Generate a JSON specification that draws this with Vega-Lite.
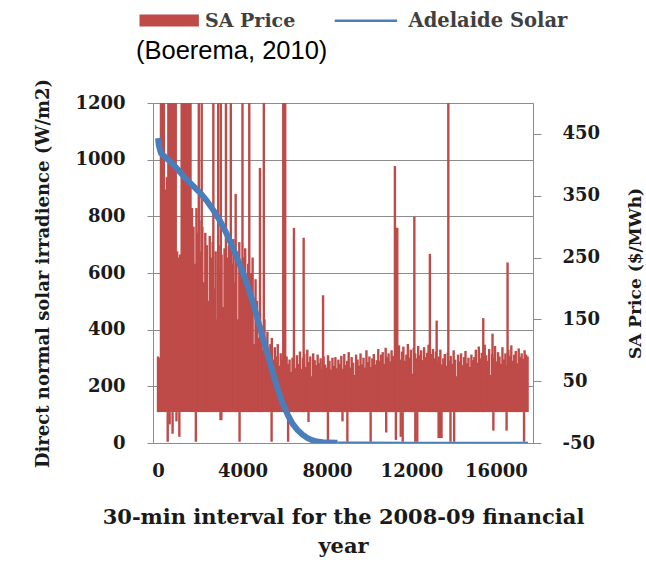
{
  "$schema": "https://vega.github.io/schema/vega-lite/v6.json",
  "width": 380,
  "height": 340,
  "autosize": "none",
  "padding": {"left": 153, "top": 103, "right": 113, "bottom": 130},
  "background": "white",
  "config": {
    "view": {"stroke": "#8c8c8c", "strokeWidth": 1},
    "axis": {
      "labelFont": "DejaVu Serif", "labelFontWeight": "bold", "labelFontSize": 18, "labelColor": "#1a1a1a",
      "titleFont": "DejaVu Serif", "titleFontWeight": "bold", "titleColor": "#1a1a1a",
      "domainColor": "#8c8c8c", "tickColor": "#8c8c8c", "gridColor": "#8c8c8c", "gridOpacity": 1,
      "labelExpr": "'' + datum.value"
    }
  },
  "datasets": {
    "price": [
      {"x":0,"price":90},{"x":70,"price":88},{"x":140,"price":600},{"x":210,"price":600},{"x":280,"price":600},{"x":350,"price":360},{"x":420,"price":380},{"x":490,"price":600},{"x":560,"price":600},{"x":630,"price":600},{"x":700,"price":600},{"x":770,"price":600},{"x":840,"price":600},{"x":910,"price":260},{"x":980,"price":250},{"x":1050,"price":255},{"x":1120,"price":600},{"x":1190,"price":600},{"x":1260,"price":600},{"x":1330,"price":600},{"x":1400,"price":600},{"x":1470,"price":600},{"x":1540,"price":600},
      {"x":1610,"price":330},{"x":1680,"price":300},{"x":1750,"price":240},{"x":1820,"price":330},{"x":1890,"price":290},{"x":1960,"price":310},{"x":2030,"price":260},{"x":2100,"price":300},{"x":2170,"price":210},{"x":2240,"price":290},{"x":2310,"price":270},{"x":2380,"price":180},{"x":2450,"price":285},{"x":2520,"price":250},{"x":2590,"price":275},{"x":2660,"price":200},{"x":2730,"price":260},{"x":2800,"price":150},{"x":2870,"price":270},{"x":2940,"price":230},{"x":3010,"price":255},{"x":3080,"price":170},{"x":3150,"price":265},{"x":3220,"price":120},{"x":3290,"price":250},{"x":3360,"price":270},{"x":3430,"price":190},{"x":3500,"price":240},
      {"x":3570,"price":280},{"x":3640,"price":210},{"x":3710,"price":260},{"x":3780,"price":150},{"x":3850,"price":275},{"x":3920,"price":230},{"x":3990,"price":120},{"x":4060,"price":250},{"x":4130,"price":265},{"x":4200,"price":200},{"x":4270,"price":240},{"x":4340,"price":130},{"x":4410,"price":225},{"x":4480,"price":250},{"x":4550,"price":110},{"x":4620,"price":215},{"x":4690,"price":180},{"x":4760,"price":120},{"x":4830,"price":160},{"x":4900,"price":140},{"x":4970,"price":100},{"x":5040,"price":150},{"x":5110,"price":115},{"x":5180,"price":130},{"x":5250,"price":95},{"x":5320,"price":110},{"x":5390,"price":120},{"x":5460,"price":85},{"x":5530,"price":105},{"x":5600,"price":90},{"x":5670,"price":110},{"x":5740,"price":75},{"x":5810,"price":95},{"x":5880,"price":85},{"x":5950,"price":100},{"x":6020,"price":70},{"x":6090,"price":90},{"x":6160,"price":78},{"x":6230,"price":85},{"x":6300,"price":65},{"x":6370,"price":88},{"x":6440,"price":72},
      {"x":6510,"price":71},{"x":6580,"price":92},{"x":6650,"price":78},{"x":6720,"price":98},{"x":6790,"price":70},{"x":6860,"price":88},{"x":6930,"price":94},{"x":7000,"price":73},{"x":7070,"price":101},{"x":7140,"price":81},{"x":7210,"price":90},{"x":7280,"price":58},{"x":7350,"price":95},{"x":7420,"price":84},{"x":7490,"price":76},{"x":7560,"price":93},{"x":7630,"price":79},
      {"x":7700,"price":87},{"x":7770,"price":70},{"x":7840,"price":90},{"x":7910,"price":77},{"x":7980,"price":72},{"x":8050,"price":92},{"x":8120,"price":83},{"x":8190,"price":69},{"x":8260,"price":88},{"x":8330,"price":75},{"x":8400,"price":89},{"x":8470,"price":71},{"x":8540,"price":85},{"x":8610,"price":78},{"x":8680,"price":91},{"x":8750,"price":70},
      {"x":8820,"price":94},{"x":8890,"price":76},{"x":8960,"price":83},{"x":9030,"price":97},{"x":9100,"price":72},{"x":9170,"price":89},{"x":9240,"price":80},{"x":9310,"price":60},{"x":9380,"price":93},{"x":9450,"price":85},{"x":9520,"price":75},{"x":9590,"price":95},{"x":9660,"price":77},{"x":9730,"price":88},{"x":9800,"price":72},{"x":9870,"price":100},{"x":9940,"price":81},{"x":10010,"price":90},{"x":10080,"price":73},{"x":10150,"price":87},{"x":10220,"price":94},{"x":10290,"price":77},{"x":10360,"price":84},
      {"x":10430,"price":102},{"x":10500,"price":83},{"x":10570,"price":93},{"x":10640,"price":97},{"x":10710,"price":78},{"x":10780,"price":104},{"x":10850,"price":89},{"x":10920,"price":95},{"x":10990,"price":82},{"x":11060,"price":100},{"x":11130,"price":91},{"x":11200,"price":86},{"x":11270,"price":106},
      {"x":11340,"price":90},{"x":11410,"price":108},{"x":11480,"price":85},{"x":11550,"price":98},{"x":11620,"price":106},{"x":11690,"price":83},{"x":11760,"price":93},{"x":11830,"price":110},{"x":11900,"price":88},{"x":11970,"price":101},{"x":12040,"price":62},{"x":12110,"price":104},{"x":12180,"price":95},{"x":12250,"price":87},{"x":12320,"price":107},{"x":12390,"price":92},{"x":12460,"price":100},{"x":12530,"price":84},{"x":12600,"price":105},{"x":12670,"price":89},{"x":12740,"price":96},{"x":12810,"price":109},{"x":12880,"price":82},{"x":12950,"price":94},{"x":13020,"price":102},{"x":13090,"price":87},
      {"x":13160,"price":98},{"x":13230,"price":81},{"x":13300,"price":90},{"x":13370,"price":101},{"x":13440,"price":77},{"x":13510,"price":87},{"x":13580,"price":94},{"x":13650,"price":75},{"x":13720,"price":96},{"x":13790,"price":83},{"x":13860,"price":91},{"x":13930,"price":78},{"x":14000,"price":100},{"x":14070,"price":85},{"x":14140,"price":58},{"x":14210,"price":93},{"x":14280,"price":82},{"x":14350,"price":95},{"x":14420,"price":76},{"x":14490,"price":89},{"x":14560,"price":99},{"x":14630,"price":79},{"x":14700,"price":88},{"x":14770,"price":73},{"x":14840,"price":93},{"x":14910,"price":84},
      {"x":14980,"price":89},{"x":15050,"price":101},{"x":15120,"price":80},{"x":15190,"price":106},{"x":15260,"price":87},{"x":15330,"price":96},{"x":15400,"price":77},{"x":15470,"price":109},{"x":15540,"price":92},{"x":15610,"price":83},{"x":15680,"price":102},{"x":15750,"price":60},{"x":15820,"price":94},{"x":15890,"price":88},{"x":15960,"price":107},{"x":16030,"price":82},{"x":16100,"price":97},{"x":16170,"price":90},{"x":16240,"price":78},{"x":16310,"price":105},{"x":16380,"price":85},{"x":16450,"price":95},{"x":16520,"price":76},{"x":16590,"price":101},{"x":16660,"price":91},{"x":16730,"price":108},{"x":16800,"price":83},{"x":16870,"price":93},{"x":16940,"price":99},{"x":17010,"price":79},{"x":17080,"price":103},{"x":17150,"price":89},{"x":17220,"price":95},{"x":17290,"price":86},{"x":17360,"price":100},{"x":17430,"price":93},{"x":17500,"price":90},
      {"x":1931,"price":600},{"x":2069,"price":600},{"x":2621,"price":600},{"x":2851,"price":600},{"x":2975,"price":600},{"x":3218,"price":600},{"x":3448,"price":600},{"x":4000,"price":600},{"x":4322,"price":600},{"x":5011,"price":600},{"x":5931,"price":600},{"x":6023,"price":600},{"x":13747,"price":600},
      {"x":3678,"price":353},{"x":4828,"price":395},{"x":6437,"price":298},{"x":6897,"price":282},{"x":7816,"price":189},{"x":11218,"price":398},{"x":11250,"price":298},{"x":11290,"price":298},{"x":11330,"price":298},{"x":12138,"price":316},{"x":12874,"price":256},{"x":13195,"price":148},{"x":15402,"price":152},{"x":15840,"price":127},{"x":16552,"price":242},
      {"x":460,"price":-48},{"x":552,"price":-20},{"x":690,"price":-35},{"x":874,"price":-15},{"x":1011,"price":-40},{"x":1793,"price":-48},{"x":2960,"price":-13},{"x":3000,"price":-13},{"x":3862,"price":-48},{"x":5379,"price":-48},{"x":6161,"price":-48},{"x":7126,"price":-16},{"x":8046,"price":-46},{"x":8736,"price":-15},{"x":8966,"price":-48},{"x":10069,"price":-48},{"x":10805,"price":-33},{"x":11264,"price":-45},{"x":11494,"price":-40},{"x":11586,"price":-48},{"x":12184,"price":-48},{"x":12276,"price":-48},{"x":13287,"price":-42},{"x":13330,"price":-42},{"x":13380,"price":-42},{"x":13425,"price":-42},{"x":13850,"price":-48},{"x":14023,"price":-48},{"x":15880,"price":-30},{"x":16506,"price":-30},{"x":17333,"price":-48}
    ],
    "solar": [
      {"x":0,"irr":1076},{"x":40,"irr":1050},{"x":140,"irr":1023},{"x":400,"irr":1005},{"x":700,"irr":985},{"x":1000,"irr":960},{"x":1240,"irr":939},{"x":1600,"irr":912},{"x":2008,"irr":882},{"x":2300,"irr":856},{"x":2620,"irr":822},{"x":2930,"irr":785},{"x":3234,"irr":741},{"x":3540,"irr":690},{"x":3847,"irr":635},{"x":4080,"irr":590},{"x":4307,"irr":540},{"x":4540,"irr":485},{"x":4766,"irr":423},{"x":5000,"irr":362},{"x":5226,"irr":304},{"x":5450,"irr":245},{"x":5686,"irr":187},{"x":5900,"irr":140},{"x":6146,"irr":99},{"x":6370,"irr":68},{"x":6605,"irr":46},{"x":6830,"irr":30},{"x":7065,"irr":18},{"x":7300,"irr":10},{"x":7525,"irr":5},{"x":7800,"irr":3},{"x":8100,"irr":2},{"x":8500,"irr":1},{"x":9500,"irr":0.5},{"x":12000,"irr":0},{"x":17520,"irr":0}
    ]
  },
  "layer": [
    {
      "data": {"name": "price"},
      "mark": {"type": "bar", "width": 2.4, "clip": true},
      "encoding": {
        "x": {"field": "x", "type": "quantitative", "scale": {"domain": [0, 17520], "nice": false, "zero": false},
          "axis": {"values": [0, 4000, 8000, 12000, 16000], "ticks": false, "tickSize": 0, "grid": false, "labelFlush": false, "labelPadding": 19,
            "title": ["30-min interval for the 2008-09 financial", "year"], "titleFontSize": 21, "titlePadding": 26, "titleLineHeight": 29}},
        "y": {"field": "price", "type": "quantitative", "scale": {"domain": [-50, 500], "nice": false, "zero": false},
          "axis": {"orient": "right", "values": [-50, 50, 150, 250, 350, 450], "grid": false, "domain": false, "tickSize": 8, "labelPadding": 21,
            "title": "SA Price ($/MWh)", "titleAngle": 270, "titleFontSize": 17, "titlePadding": 45}},
        "y2": {"datum": 0},
        "fill": {"datum": "SA Price", "type": "nominal", "scale": {"range": ["#be4b48"]},
          "legend": {"orient": "none", "legendX": -17, "legendY": -92, "padding": 0,
            "symbolType": "M-1,-1H8.9V1H-1Z", "symbolSize": 144, "symbolStrokeWidth": 0, "labelOffset": 50,
            "labelFont": "DejaVu Serif", "labelFontWeight": "bold", "labelFontSize": 19, "labelColor": "#404040",
            "title": "(Boerema, 2010)", "titleOrient": "bottom", "titleFont": "Liberation Sans", "titleFontSize": 25.5, "titleFontWeight": "normal", "titleColor": "#000000", "titlePadding": 8, "titleLimit": 400}}
      }
    },
    {
      "data": {"name": "solar"},
      "encoding": {
        "x": {"field": "x", "type": "quantitative"},
        "y": {"field": "irr", "type": "quantitative", "scale": {"domain": [0, 1200], "nice": false},
          "axis": {"orient": "left", "values": [0, 200, 400, 600, 800, 1000, 1200], "grid": true, "tickSize": 6, "labelPadding": 22,
            "title": "Direct normal solar irradience (W/m2)", "titleFontSize": 18, "titlePadding": 22}},
        "stroke": {"datum": "Adelaide Solar", "type": "nominal", "scale": {"range": ["#4a7ebb"]},
          "legend": {"orient": "none", "legendX": 178, "legendY": -92, "padding": 0,
            "symbolType": "M-1,0H9.4", "symbolSize": 144, "symbolStrokeWidth": 2.5, "labelOffset": 58,
            "labelFont": "DejaVu Serif", "labelFontWeight": "bold", "labelFontSize": 19.5, "labelColor": "#404040", "title": null}}
      },
      "layer": [
        {"transform": [{"filter": "datum.x <= 8500"}], "mark": {"type": "line", "strokeWidth": 6, "clip": true}},
        {"transform": [{"filter": "datum.x >= 8500"}], "mark": {"type": "line", "strokeWidth": 2.5, "clip": true}}
      ]
    }
  ],
  "resolve": {"scale": {"y": "independent", "fill": "independent", "stroke": "independent"}}
}
